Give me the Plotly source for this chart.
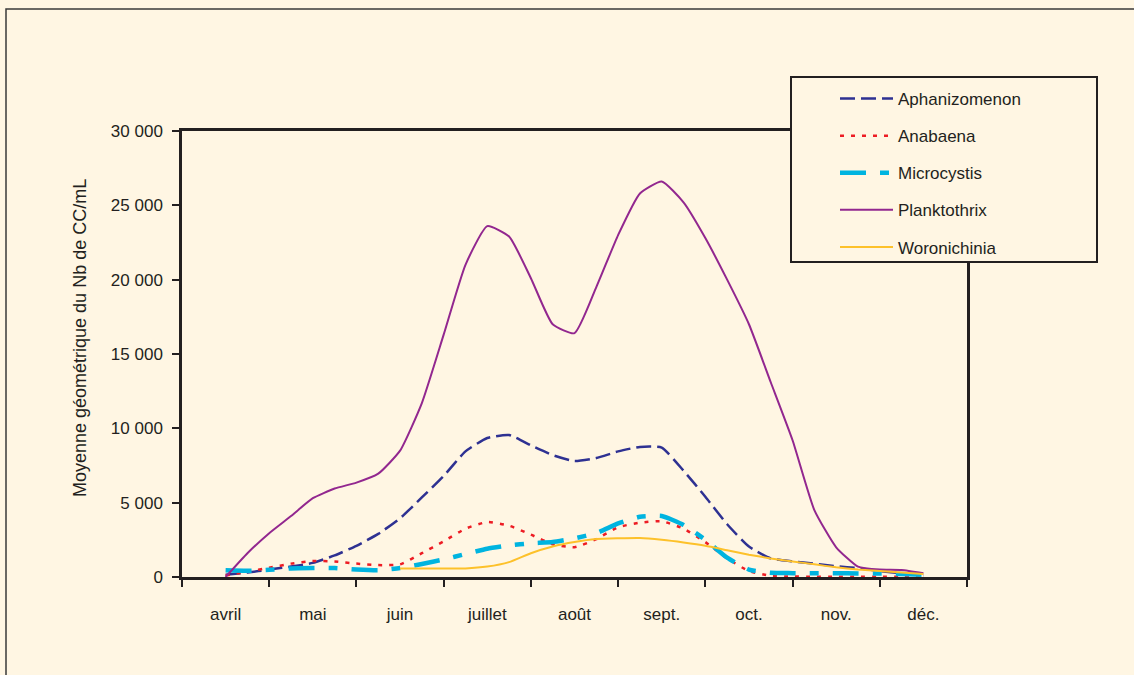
import plotly.graph_objects as go

months = ["avril", "mai", "juin", "juillet", "août", "sept.", "oct.", "nov.", "déc."]

# sampling positions (in month units, 0 = avril ... 8 = déc.)
pos = [0, 0.25, 0.5, 0.75, 1, 1.25, 1.5, 1.75, 2, 2.25, 2.5, 2.75, 3, 3.25, 3.5, 3.75,
       4, 4.25, 4.5, 4.75, 5, 5.25, 5.5, 5.75, 6, 6.25, 6.5, 6.75, 7, 7.25, 7.5, 7.75, 8]

aphanizomenon = [150, 300, 500, 700, 950, 1450, 2100, 2900, 3950, 5350, 6800, 8450, 9350, 9550, 8850, 8200,
                 7800, 8000, 8450, 8750, 8700, 7150, 5400, 3550, 2050, 1250, 1050, 900, 720, 600, 400, 250, 100]
anabaena = [100, 350, 620, 900, 1070, 1050, 900, 800, 850, 1600, 2400, 3250, 3700, 3450, 2850, 2200,
            2000, 2550, 3350, 3650, 3750, 3250, 2350, 1250, 400, 80, 30, 20, 10, 10, 10, 10, 0]
microcystis = [450, 420, 480, 580, 600, 600, 500, 450, 600, 880, 1180, 1550, 1900, 2120, 2270, 2350,
               2600, 2950, 3600, 4050, 4100, 3500, 2500, 1300, 500, 280, 260, 250, 250, 240, 230, 200, 150]
planktothrix = [0, 1600, 2950, 4100, 5300, 5950, 6350, 6950, 8500, 11700, 16300, 21000, 23600, 22900, 20100, 17000,
                16400, 19500, 23000, 25800, 26600, 25200, 22800, 20000, 17000, 13100, 9200, 4500, 2000, 700, 500, 470, 250]
woronichinia = [None, None, None, None, None, None, None, None, 580, 580, 580, 580, 700, 1000, 1600, 2050,
                2350, 2550, 2600, 2620, 2500, 2320, 2100, 1800, 1500, 1250, 1050, 850, 650, 500, 400, 300, 200]

y_ticks = [0, 5000, 10000, 15000, 20000, 25000, 30000]
y_title = "Moyenne géométrique du Nb de CC/mL"

BG = "#FFF6E3"
INK = "#231F20"
FONT = "Liberation Sans, Arial, sans-serif"
FS = 17

series = [
    ("Aphanizomenon", aphanizomenon, "#2E3192", 2.5, "15px,6px"),
    ("Anabaena", anabaena, "#ED1C24", 2.5, "4px,7px"),
    ("Microcystis", microcystis, "#00B4E0", 4.5, "26px,14px,9px,14px"),
    ("Planktothrix", planktothrix, "#92278F", 2, "solid"),
    ("Woronichinia", woronichinia, "#FDC12A", 2, "solid"),
]

fig = go.Figure()
for i, (name, vals, col, w, dash) in enumerate(series):
    fig.add_trace(go.Scatter(
        x=pos, y=vals, name=name, mode="lines", legendgroup=f"g{i}",
        line=dict(color=col, width=w, dash=dash, shape="spline", smoothing=0.5),
        connectgaps=False,
    ))

L, R, T, B = 182, 967, 131, 577
W, H = 1134, 675
pw, ph = R - L, B - T

def px_x(v):
    return (v - L) / pw

def px_y(v):
    return (B - v) / ph

shapes = [
    # outer frame
    dict(type="rect", xref="paper", yref="paper",
         x0=px_x(6), x1=px_x(1145), y0=px_y(690), y1=px_y(9),
         line=dict(color="#3A3A3A", width=1.5), fillcolor="rgba(0,0,0,0)", layer="below"),
    # legend box
    dict(type="rect", xref="paper", yref="paper",
         x0=px_x(791), x1=px_x(1097), y0=px_y(262), y1=px_y(77),
         line=dict(color=INK, width=2), fillcolor=BG, layer="above"),
]

fig.update_layout(
    width=W, height=H,
    paper_bgcolor=BG, plot_bgcolor=BG,
    margin=dict(l=L, r=W - R, t=T, b=H - B, autoexpand=False),
    separators=", ",
    font=dict(family=FONT, size=FS, color=INK),
    shapes=shapes,
    annotations=[dict(
        text=y_title, textangle=-90, xref="paper", yref="paper",
        x=px_x(80), y=px_y(338), xanchor="center", yanchor="middle", showarrow=False,
        font=dict(family=FONT, size=18, color=INK),
    )],
    showlegend=True,
    legend=dict(
        xref="container", yref="container",
        x=835 / W, y=1 - 81 / H, xanchor="left", yanchor="top",
        bgcolor="rgba(0,0,0,0)", borderwidth=0,
        font=dict(family=FONT, size=FS, color=INK),
        tracegroupgap=12, itemwidth=53,
    ),
    xaxis=dict(
        range=[-0.5, 8.5], tickmode="array", tickvals=list(range(len(months))), ticktext=months,
        ticks="", showgrid=False, zeroline=False,
        showline=True, linecolor=INK, linewidth=2.5, mirror=True,
        ticklabelstandoff=20,
        tickfont=dict(family=FONT, size=FS, color=INK),
        minor=dict(tickmode="array", tickvals=[-0.5, 0.5, 1.5, 2.5, 3.5, 4.5, 5.5, 6.5, 7.5, 8.5],
                   ticks="outside", ticklen=7, tickwidth=2, tickcolor=INK, showgrid=False),
        fixedrange=True,
    ),
    yaxis=dict(
        range=[0, 30000], tickmode="array", tickvals=y_ticks, tickformat=",d",
        ticks="outside", ticklen=7, tickwidth=2, tickcolor=INK,
        showgrid=False, zeroline=False,
        showline=True, linecolor=INK, linewidth=2.5, mirror=True,
        ticklabelstandoff=6,
        tickfont=dict(family=FONT, size=FS, color=INK),
        fixedrange=True,
    ),
)

fig.write_html("out.html", config={"displayModeBar": False},
               post_script="document.body.style.margin='0';")
